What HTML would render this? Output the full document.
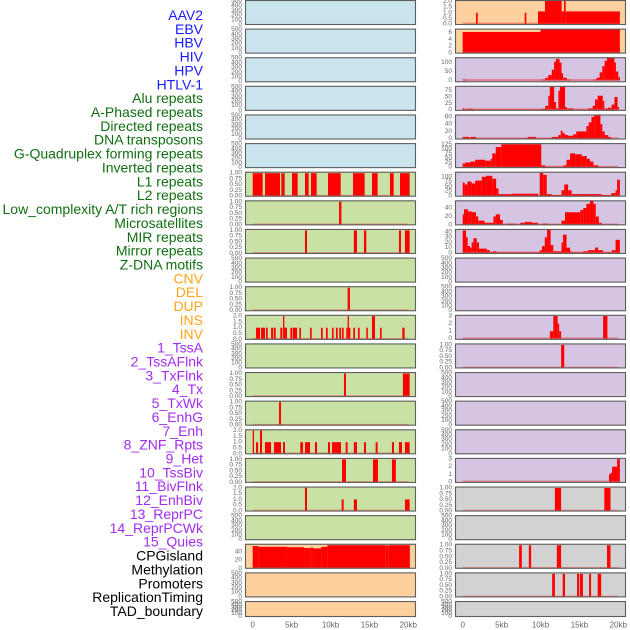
<!DOCTYPE html>
<html><head><meta charset="utf-8">
<style>
html,body{margin:0;padding:0;background:#fff;width:630px;height:630px;overflow:hidden}
svg{display:block}
.lbl{font-family:"Liberation Sans",sans-serif;font-size:14px}
.tk{font-family:"Liberation Sans",sans-serif;font-size:6.5px;fill:#666}
.xt{font-family:"Liberation Sans",sans-serif;font-size:8px;fill:#666}
</style></head>
<body>
<svg id="chart" width="630" height="630" viewBox="0 0 630 630" xmlns="http://www.w3.org/2000/svg">
<g id="labels"></g>
<g id="panels"></g>
<g id="xaxes"></g>
</svg>
<script>
// ---- track labels ----
const trackNames = ["AAV2","EBV","HBV","HIV","HPV","HTLV-1","Alu repeats","A-Phased repeats","Directed repeats","DNA transposons","G-Quadruplex forming repeats","Inverted repeats","L1 repeats","L2 repeats","Low_complexity A/T rich regions","Microsatellites","MIR repeats","Mirror repeats","Z-DNA motifs","CNV","DEL","DUP","INS","INV","1_TssA","2_TssAFlnk","3_TxFlnk","4_Tx","5_TxWk","6_EnhG","7_Enh","8_ZNF_Rpts","9_Het","10_TssBiv","11_BivFlnk","12_EnhBiv","13_ReprPC","14_ReprPCWk","15_Quies","CPGisland","Methylation","Promoters","ReplicationTiming","TAD_boundary"];
const trackGroups = [0,0,0,0,0,0,1,1,1,1,1,1,1,1,1,1,1,1,1,2,2,2,2,2,3,3,3,3,3,3,3,3,3,3,3,3,3,3,3,4,4,4,4,4];
const groupColors = ["#1a1aff","#116e11","#ffa51a","#a22cf0","#000000"];

// ---- x axis ----
const xTickValues = [0,5,10,15,20];
const xTickLabels = ["0","5kb","10kb","15kb","20kb"];

// ---- tick sets ----
const ticks500 = [0,100,200,300,400,500];
const ticks1 = [0,0.25,0.5,0.75,1];
const ticks2 = [0,0.5,1,1.5,2];
const ticks3 = [0,1,2,3];

// ---- left column series: [startKb, endKb, value] ----
const leftL1 = [[0,1.28,1],[1.58,3.51,1],[3.68,4.11,1],[5.05,5.78,1],[6.72,7.19,1],[7.49,8.22,1],[9.68,11.31,1],[12.89,14.39,1],[15.33,16.06,1],[17.64,18.12,1],[18.93,20.17,1]];
const leftL2 = [[11.1,11.4,1]];
const leftLowComplexity = [[6.72,6.98,1],[13.0,13.4,1],[14.3,14.6,1],[18.8,19.06,1],[19.57,20.17,1]];
const leftMIR = [[12.2,12.5,1]];
const leftMirror = [[0.43,0.94,1],[1.07,1.58,1],[1.71,1.93,1],[2.36,2.61,1],[2.7,2.96,1],[3.55,3.81,1],[3.9,4.07,2],[4.07,4.41,1],[4.84,5.1,1],[5.18,5.7,1],[6.0,6.21,1],[7.37,7.58,1],[8.78,9.0,1],[9.42,9.64,1],[10.19,10.4,1],[10.7,10.92,1],[11.13,11.35,1],[11.48,11.69,1],[12.03,12.2,1],[12.2,12.37,2],[12.37,12.55,1],[12.93,13.15,1],[13.53,13.75,1],[14.6,14.8,1],[15.33,15.72,2],[16.36,16.57,1],[19.23,19.53,1]];
const leftCNV = [[11.73,11.99,1],[19.3,20.17,1]];
const leftDEL = [[3.38,3.64,1]];
const leftDUP = [[0,0.17,2],[0.43,0.69,1],[0.94,1.2,2],[1.58,2.36,1],[2.74,3.64,1],[3.9,4.15,1],[6.12,6.47,1],[6.72,7.37,1],[8.0,8.27,1],[9.68,9.94,1],[10.19,11.35,1],[11.95,12.2,1],[13.0,13.4,1],[14.3,14.56,1],[15.8,16.06,1],[17.9,18.16,1],[18.8,19.19,1],[19.57,20.17,1]];
const leftINS = [[11.48,11.99,1],[15.46,16.1,1],[17.9,18.4,1]];
const leftINV = [[6.72,6.98,2],[11.43,11.69,1],[13.0,13.4,1],[19.57,20.17,1]];
const leftCpG = [[0,0.7,55],[0.7,4.4,53],[4.4,6.6,52],[6.6,7.4,50],[7.4,7.8,51],[7.8,8.8,49],[8.8,9.6,53],[9.6,17.1,57],[17.1,17.5,56],[17.5,20.2,57]];

// ---- right column series ----
const rightAAV2 = [[1.71,1.93,1],[7.97,8.18,1],[9.68,10.58,1.12],[10.58,12.72,2.3],[12.72,13.02,1.12],[13.02,13.23,2.3],[13.23,20.2,1.12]];
const rightEBV = [[0,10.0,6.2],[10.0,20.2,7.1]];
const rightHBV = [[0,0.35,5],[0.35,10.1,1],[10.1,10.6,5],[10.6,11,15],[11,11.45,30],[11.45,11.75,60],[11.75,12,105],[12,12.45,120],[12.45,12.7,100],[12.7,12.9,40],[12.9,13.4,15],[13.4,13.9,5],[13.9,16.8,1],[16.8,17.2,5],[17.2,17.6,15],[17.6,17.95,45],[17.95,18.25,80],[18.25,18.55,110],[18.55,19.5,130],[19.5,19.7,100],[19.7,20,50],[20,20.2,20]];
const rightHIV = [[0,0.17,6],[0.17,0.7,2],[0.7,1.3,4],[1.3,10,1],[10,10.6,3],[10.6,11,15],[11,11.2,55],[11.2,11.75,90],[11.75,12,30],[12,12.3,5],[12.3,12.5,75],[12.5,13.15,90],[13.15,13.4,10],[13.4,14.2,5],[14.2,16.1,1],[16.1,16.7,5],[16.7,17,15],[17,17.35,40],[17.35,18,55],[18,18.2,35],[18.2,18.65,5],[18.65,19.15,8],[19.15,19.5,20],[19.5,19.9,50],[19.9,20.1,10]];
const rightHPV = [[0,0.85,5],[0.85,1.0,1],[1.0,1.7,5],[1.7,8.35,1],[8.35,9.4,5],[9.4,11.45,1],[11.45,12.3,5],[12.3,12.6,10],[12.6,12.85,22],[12.85,13.15,15],[13.15,13.55,10],[13.55,14.2,8],[14.2,14.6,12],[14.6,15.9,20],[15.9,16.2,35],[16.2,16.55,45],[16.55,16.9,60],[16.9,17.7,65],[17.7,17.95,40],[17.95,18.25,20],[18.25,18.7,10],[18.7,19.05,5],[19.05,20,1]];
const rightAlu = [[0,0.35,20],[0.35,1.0,25],[1.0,1.6,30],[1.6,2.9,40],[2.9,3.6,35],[3.6,3.8,45],[3.8,4.25,75],[4.25,4.95,110],[4.95,10.1,125],[10.1,10.6,10],[10.6,12.95,2],[12.95,13.35,10],[13.35,13.8,40],[13.8,14.45,75],[14.45,15.3,70],[15.3,15.95,60],[15.95,16.35,45],[16.35,16.8,30],[16.8,17.45,10],[17.45,20,1]];
const rightAPhased = [[0,0.25,70],[0.25,0.6,60],[0.6,1.15,75],[1.15,1.6,65],[1.6,2.45,80],[2.45,3.0,100],[3.0,3.8,105],[3.8,4.3,90],[4.3,4.6,40],[4.6,6.3,10],[6.3,9.7,12],[9.7,9.9,2],[9.9,10.35,120],[10.35,10.8,110],[10.8,11.45,10],[11.45,12.7,5],[12.7,13.05,30],[13.05,13.55,60],[13.55,14,30],[14,16.6,10],[16.6,17.85,10],[17.85,19.1,5],[19.1,19.65,15],[19.65,19.85,30],[19.85,20.2,85]];
const rightDirected = [[0,0.17,25],[0.17,0.7,37],[0.7,1.15,32],[1.15,1.7,30],[1.7,2.0,20],[2.0,2.8,10],[2.8,3.95,5],[3.95,4.25,20],[4.25,4.8,25],[4.8,5.15,12],[5.15,5.65,1],[5.65,6.7,3],[6.7,7.4,1],[7.4,8.0,5],[8.0,8.9,7],[8.9,9.7,5],[9.7,10.25,1],[10.25,11,3],[11,12.7,1],[12.7,13.15,10],[13.15,15.1,30],[15.1,15.5,35],[15.5,15.9,40],[15.9,16.35,50],[16.35,16.8,60],[16.8,17.1,50],[17.1,17.5,20],[17.5,17.85,5],[17.85,20,1]];
const rightDNA = [[0,0.43,43],[0.43,0.64,30],[0.64,0.94,13],[0.94,1.15,10],[1.15,1.37,20],[1.37,1.8,28],[1.8,2.1,20],[2.1,3.1,8],[3.1,3.5,5],[3.5,3.9,1],[3.9,4.35,3],[4.35,9.9,1],[9.9,10.2,5],[10.2,10.55,13],[10.55,10.85,30],[10.85,11.3,45],[11.3,11.65,15],[11.65,12.7,3],[12.7,12.9,20],[12.9,13.35,35],[13.35,13.8,10],[13.8,14,3],[14,15.5,1],[15.5,16.1,3],[16.1,17,5],[17,17.4,10],[17.4,18.05,5],[18.05,19.15,1],[19.15,19.65,5],[19.65,20.2,25]];
const rightMirror = [[11.2,11.65,1],[11.65,12.2,3],[12.2,12.4,2],[12.4,12.65,1],[18.05,18.6,3]];
const rightZDNA = [[12.65,13.05,1]];
const rightINS = [[18.8,19.0,1],[19.0,19.2,1.2],[19.2,19.85,2],[19.85,20.2,3]];
const rightINV = [[11.85,12.65,1],[18.2,19.0,1]];
const rightTssAFlnk = [[7.25,7.6,1],[8.5,8.8,1],[12.1,12.65,1],[18.55,19.0,1]];
const rightTxFlnk = [[11.5,11.85,1],[12.85,13.15,1],[14.7,14.95,1],[15.05,15.45,1],[16.25,16.5,1],[17.35,17.8,1]];

const C_BLUE="#c9e4ec", C_GREEN="#c9e1a5", C_PEACH="#fdd09e", C_LAV="#d5c5e2", C_GRAY="#d2d2d2";

function P(bg, ticks, dec, lo, hi, bars, name){ return {bg, ticks, dec, lo, hi, bars, name}; }
const leftPanels = [
 P(C_BLUE,ticks500,0,0,500,null,"left-row-1"),
 P(C_BLUE,ticks500,0,0,500,null,"left-row-2"),
 P(C_BLUE,ticks500,0,0,500,null,"left-row-3"),
 P(C_BLUE,ticks500,0,0,500,null,"left-row-4"),
 P(C_BLUE,ticks500,0,0,500,null,"left-row-5"),
 P(C_BLUE,ticks500,0,0,500,null,"left-row-6"),
 P(C_GREEN,ticks1,2,0,1.02,leftL1,"left-row-7"),
 P(C_GREEN,ticks1,2,0,1.02,leftL2,"left-row-8"),
 P(C_GREEN,ticks1,2,0,1.02,leftLowComplexity,"left-row-9"),
 P(C_GREEN,ticks500,0,0,500,null,"left-row-10"),
 P(C_GREEN,ticks1,2,0,1.02,leftMIR,"left-row-11"),
 P(C_GREEN,ticks2,1,0,2.02,leftMirror,"left-row-12"),
 P(C_GREEN,ticks500,0,0,500,null,"left-row-13"),
 P(C_GREEN,ticks1,2,0,1.02,leftCNV,"left-row-14"),
 P(C_GREEN,ticks1,2,0,1.02,leftDEL,"left-row-15"),
 P(C_GREEN,ticks2,1,0,2.02,leftDUP,"left-row-16"),
 P(C_GREEN,ticks1,2,0,1.02,leftINS,"left-row-17"),
 P(C_GREEN,ticks2,1,0,2.02,leftINV,"left-row-18"),
 P(C_GREEN,ticks500,0,0,500,null,"left-row-19"),
 P(C_PEACH,[0,20,40],0,0,58,leftCpG,"left-row-20"),
 P(C_PEACH,ticks500,0,0,500,null,"left-row-21"),
 P(C_PEACH,ticks500,0,0,500,null,"left-row-22")
];
const rightPanels = [
 P(C_PEACH,ticks2,1,-0.05,2.05,rightAAV2,"right-row-1"),
 P(C_PEACH,[0,2,4,6],0,-0.1,6.9,rightEBV,"right-row-2"),
 P(C_LAV,[0,50,100],0,-7,124,rightHBV,"right-row-3"),
 P(C_LAV,[0,25,50,75],0,-2.8,90,rightHIV,"right-row-4"),
 P(C_LAV,[0,20,40,60],0,-0.8,64,rightHPV,"right-row-5"),
 P(C_LAV,[0,25,50,75,100,125],0,-3,126,rightAlu,"right-row-6"),
 P(C_LAV,[0,25,50,75,100],0,-1,121,rightAPhased,"right-row-7"),
 P(C_LAV,[0,20,40],0,0,56,rightDirected,"right-row-8"),
 P(C_LAV,[0,10,20,30,40],0,-1.3,44,rightDNA,"right-row-9"),
 P(C_LAV,ticks500,0,0,500,null,"right-row-10"),
 P(C_LAV,ticks500,0,0,500,null,"right-row-11"),
 P(C_LAV,ticks3,0,-0.08,3.03,rightMirror,"right-row-12"),
 P(C_LAV,ticks1,2,0,1.02,rightZDNA,"right-row-13"),
 P(C_LAV,ticks500,0,0,500,null,"right-row-14"),
 P(C_LAV,ticks500,0,0,500,null,"right-row-15"),
 P(C_LAV,ticks500,0,0,500,null,"right-row-16"),
 P(C_LAV,ticks3,0,-0.08,3.03,rightINS,"right-row-17"),
 P(C_GRAY,ticks1,2,0,1.02,rightINV,"right-row-18"),
 P(C_GRAY,ticks500,0,0,500,null,"right-row-19"),
 P(C_GRAY,ticks1,2,0,1.02,rightTssAFlnk,"right-row-20"),
 P(C_GRAY,ticks1,2,0,1.02,rightTxFlnk,"right-row-21"),
 P(C_GRAY,ticks500,0,0,500,null,"right-row-22")
];

const NS="http://www.w3.org/2000/svg";
function mk(tag, attrs, parent){ const e=document.createElementNS(NS,tag); for(const k in attrs) e.setAttribute(k,attrs[k]); if(parent) parent.appendChild(e); return e; }

// labels
const lg=document.getElementById('labels');
trackNames.forEach((t,i)=>{
  const e=mk('text',{x:203,y:15+i*13.86,'text-anchor':'end','dominant-baseline':'central','class':'lbl',fill:groupColors[trackGroups[i]]},lg);
  
  
  e.textContent=t;
});

const pg=document.getElementById('panels');
const COLS=[{x:245,x0:252.7,tickX:242,panels:leftPanels},{x:455,x0:462.7,tickX:452,panels:rightPanels}];
const PX_PER_KB=7.78, PW=171;
function xScale(col,kb){ return col.x0+kb*PX_PER_KB; }

COLS.forEach((col,ci)=>{
  col.panels.forEach((p,ri)=>{
    const top=ri*28.62, h=(ri===21)?16:25;
    const yT=top+1, yB=top+h-0.5;
    const yScale=v=> yT+(p.hi-v)/(p.hi-p.lo)*(yB-yT);
    const g=mk('g',{},pg);
    
    
    const cid='clip'+ci+'_'+ri;
    const cp=mk('clipPath',{id:cid},g);
    mk('rect',{x:col.x,y:top,width:PW,height:h},cp);
    const bg=mk('rect',{x:col.x,y:top,width:PW,height:h,fill:p.bg},g);
    
    
    const dg=mk('g',{'clip-path':'url(#'+cid+')'},g);
    if(p.bars){
      p.bars.forEach(b=>{
        const x1=xScale(col,b[0]), x2=xScale(col,b[1]);
        const y1=yScale(b[2]), y0=yScale(0);
        const r=mk('rect',{x:x1,y:Math.min(y1,y0),width:Math.max(0.8,x2-x1),height:Math.abs(y0-y1),fill:'#ff0000'},dg);
        
        
      });
      const bl=mk('line',{x1:xScale(col,0),x2:xScale(col,20),y1:yScale(0)-0.5,y2:yScale(0)-0.5,stroke:'rgba(235,60,60,0.5)','stroke-width':1.6},dg);
      
      
    }
    const fr=mk('rect',{x:col.x+0.5,y:top+0.5,width:PW-1,height:h-1,fill:'none',stroke:'#5e5e5e','stroke-width':1.1},g);
    
    
    p.ticks.forEach(v=>{
      const t=mk('text',{x:col.tickX,y:yScale(v),'text-anchor':'end','dominant-baseline':'central','class':'tk'},g);
      
      
      t.textContent=v.toFixed(p.dec);
    });
  });
});

const xg=document.getElementById('xaxes');
COLS.forEach(col=>{
  xTickValues.forEach((v,i)=>{
    const t=mk('text',{x:xScale(col,v),y:625,'text-anchor':'middle','dominant-baseline':'central','class':'xt'},xg);
    
    
    t.textContent=xTickLabels[i];
  });
});
</script>
</body></html>
